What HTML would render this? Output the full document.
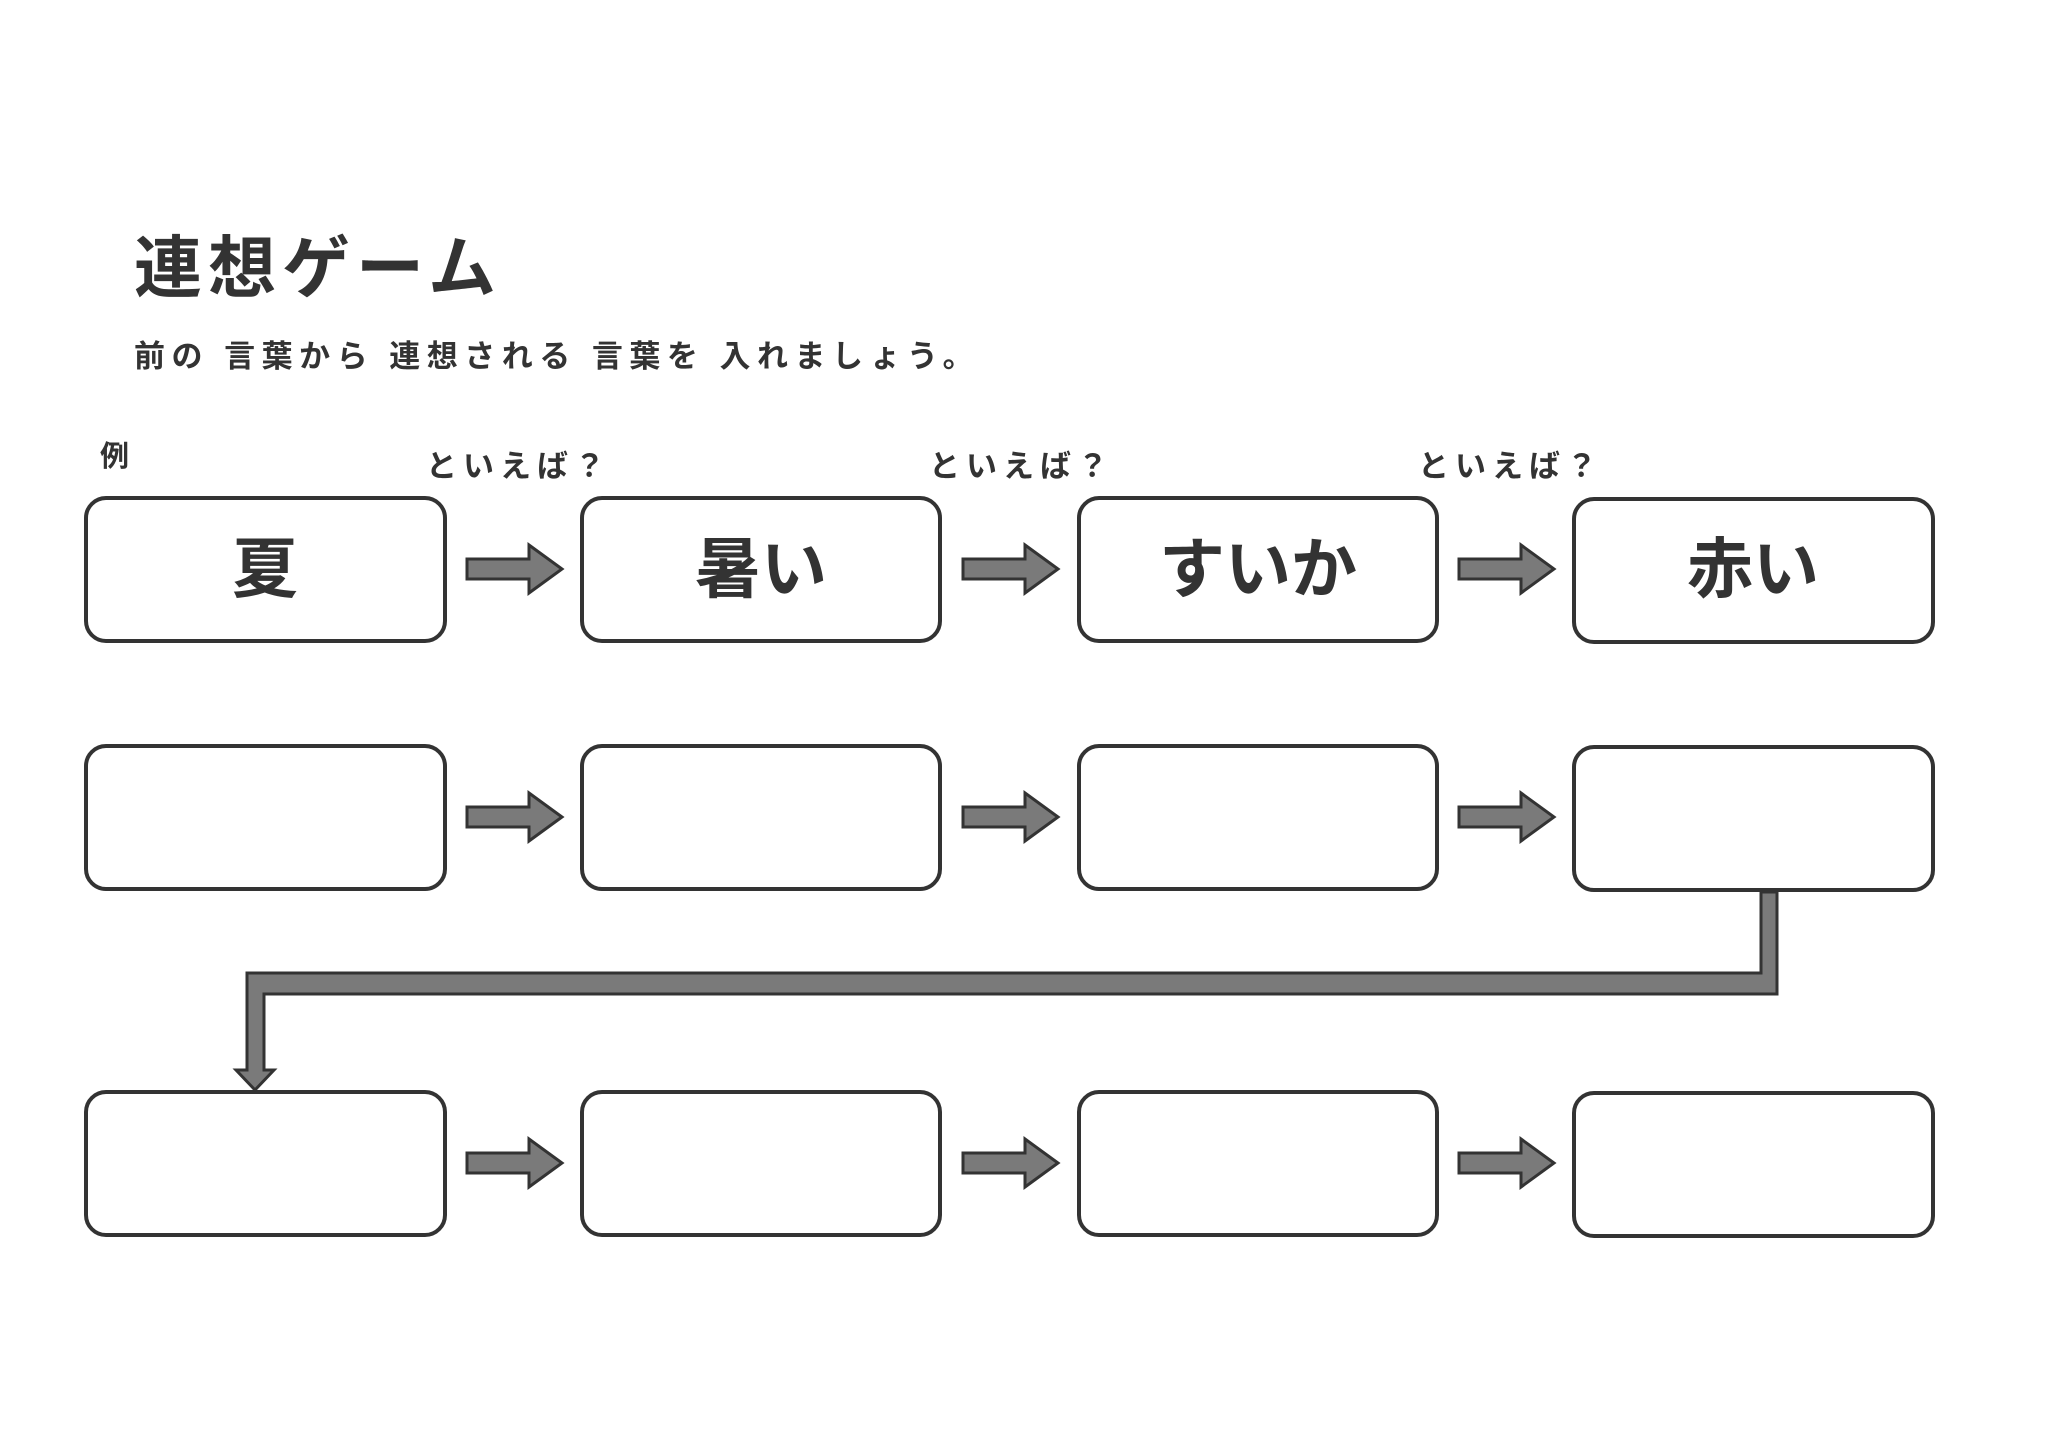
<!DOCTYPE html>
<html><head><meta charset="utf-8"><style>
html,body{margin:0;padding:0;background:#fff;}
svg text{font-family:"Liberation Sans","Noto Sans CJK JP",sans-serif;font-weight:bold;fill:#333;}
</style></head><body>
<svg width="2048" height="1449" viewBox="0 0 2048 1449" xmlns="http://www.w3.org/2000/svg">
<rect width="2048" height="1449" fill="#fff"/>
<text x="134" y="292" font-size="68" letter-spacing="6">連想ゲーム</text>
<text x="134" y="367" font-size="31" letter-spacing="6.5">前の 言葉から 連想される 言葉を 入れましょう。</text>
<text x="100" y="466" font-size="29">例</text>
<text x="426" y="477" font-size="31" letter-spacing="6">といえば？</text>
<text x="929" y="477" font-size="31" letter-spacing="6">といえば？</text>
<text x="1418" y="477" font-size="31" letter-spacing="6">といえば？</text>
<g fill="#fff" stroke="#333" stroke-width="4">
<rect x="86" y="498" width="359" height="143" rx="20"/>
<rect x="582" y="498" width="358" height="143" rx="20"/>
<rect x="1079" y="498" width="358" height="143" rx="20"/>
<rect x="1574" y="499" width="359" height="143" rx="20"/>
<rect x="86" y="746" width="359" height="143" rx="20"/>
<rect x="582" y="746" width="358" height="143" rx="20"/>
<rect x="1079" y="746" width="358" height="143" rx="20"/>
<rect x="1574" y="747" width="359" height="143" rx="20"/>
<rect x="86" y="1092" width="359" height="143" rx="20"/>
<rect x="582" y="1092" width="358" height="143" rx="20"/>
<rect x="1079" y="1092" width="358" height="143" rx="20"/>
<rect x="1574" y="1093" width="359" height="143" rx="20"/>
</g>
<g font-size="66" text-anchor="middle">
<text x="265" y="592">夏</text>
<text x="761" y="592">暑い</text>
<text x="1258" y="592">すいか</text>
<text x="1753" y="592">赤い</text>
</g>
<defs>
<path id="ar" d="M0,-10 H62 V-24 L95,0 L62,24 V10 H0 Z" fill="#7a7a7a" stroke="#333" stroke-width="3"/>
</defs>
<use href="#ar" x="467" y="569"/>
<use href="#ar" x="963" y="569"/>
<use href="#ar" x="1459" y="569"/>
<use href="#ar" x="467" y="817"/>
<use href="#ar" x="963" y="817"/>
<use href="#ar" x="1459" y="817"/>
<use href="#ar" x="467" y="1163"/>
<use href="#ar" x="963" y="1163"/>
<use href="#ar" x="1459" y="1163"/>
<path d="M1761,892 H1777 V994 H264 V1070 H274 L255,1090 L236,1070 H247 V973 H1761 Z" fill="#7a7a7a" stroke="#333" stroke-width="3"/>
</svg>
</body></html>
